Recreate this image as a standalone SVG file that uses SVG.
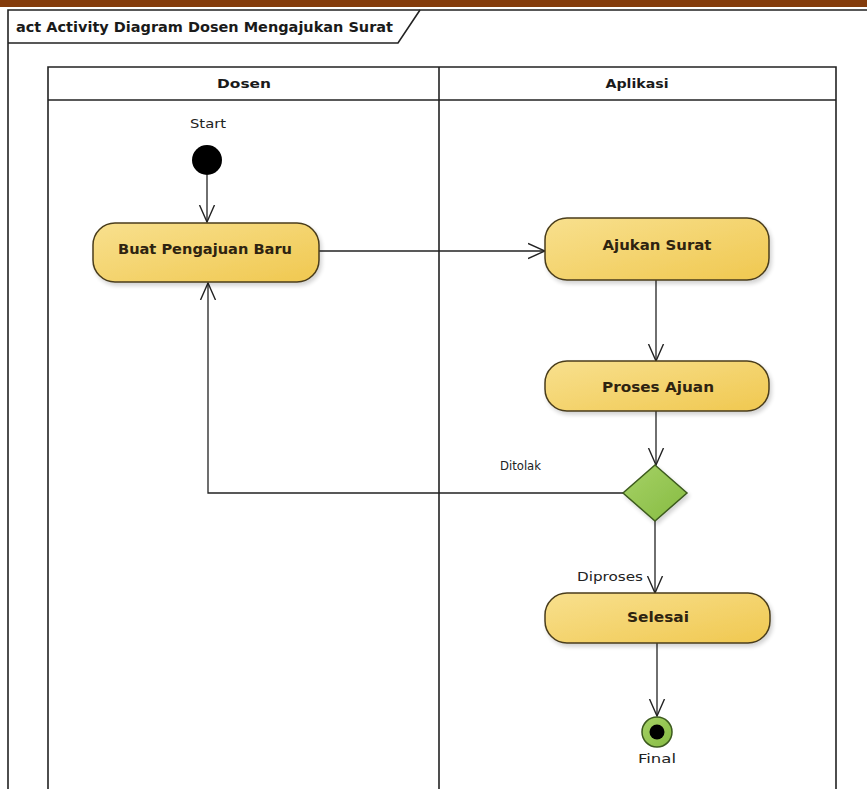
<svg xmlns="http://www.w3.org/2000/svg" width="867" height="789" viewBox="0 0 867 789">
  <defs>
    <linearGradient id="actFill" x1="0" y1="0" x2="1" y2="1">
      <stop offset="0" stop-color="#f8e08e"/>
      <stop offset="1" stop-color="#f0c850"/>
    </linearGradient>
    <linearGradient id="greenFill" x1="0" y1="0" x2="1" y2="1">
      <stop offset="0" stop-color="#a6d266"/>
      <stop offset="1" stop-color="#86bb42"/>
    </linearGradient>
    <filter id="shadow" x="-10%" y="-20%" width="130%" height="160%">
      <feGaussianBlur in="SourceAlpha" stdDeviation="2"/>
      <feOffset dx="2" dy="3" result="b"/>
      <feComponentTransfer><feFuncA type="linear" slope="0.18"/></feComponentTransfer>
      <feMerge><feMergeNode/><feMergeNode in="SourceGraphic"/></feMerge>
    </filter>
    <marker id="open" viewBox="0 0 18 18" refX="17" refY="9" markerWidth="18" markerHeight="18" markerUnits="userSpaceOnUse" orient="auto">
      <path d="M0,1.5 L17,9 L0,16.5" fill="none" stroke="#222" stroke-width="1.4"/>
    </marker>
  </defs>
  <style>
    .frame { fill: none; stroke: #222; stroke-width: 1.6; }
    .lane { fill: none; stroke: #222; stroke-width: 1.6; }
    .act { fill: url(#actFill); stroke: #4a3d1c; stroke-width: 1.5; filter: url(#shadow); }
    .dec { fill: url(#greenFill); stroke: #3c5a1e; stroke-width: 1.5; filter: url(#shadow); }
    .edge { fill: none; stroke: #222; stroke-width: 1.3; marker-end: url(#open); }
    .title { font-family: "DejaVu Sans", sans-serif; font-weight: bold; font-size: 14px; fill: #1a1a1a; }
    .head { font-family: "DejaVu Sans", sans-serif; font-weight: bold; font-size: 13px; fill: #1a1a1a; text-anchor: middle; }
    .lbl { font-family: "DejaVu Sans", sans-serif; font-weight: bold; font-size: 14px; fill: #2e2310; text-anchor: middle; }
    .note { font-family: "DejaVu Sans", sans-serif; font-size: 12.5px; fill: #222; }
  </style>

  <rect width="867" height="789" fill="#ffffff"/>
  <!-- page banner -->
  <rect x="0" y="0" width="867" height="7" fill="#843c0c"/>

  <!-- diagram frame and name tag -->
  <g id="frame">
    <path class="frame" d="M8,789 V10 H867"/>
    <path class="frame" d="M8,43 H398 L420,10"/>
    <text class="title" x="16" y="32" textLength="377" lengthAdjust="spacingAndGlyphs">act Activity Diagram Dosen Mengajukan Surat</text>
  </g>

  <!-- swimlanes -->
  <g id="lanes">
    <path class="lane" d="M48,789 V67 H836 V789"/>
    <line class="lane" x1="48" y1="100" x2="836" y2="100"/>
    <line class="lane" x1="439" y1="67" x2="439" y2="789"/>
    <text class="head" x="244" y="88" textLength="54" lengthAdjust="spacingAndGlyphs">Dosen</text>
    <text class="head" x="637" y="88" textLength="63" lengthAdjust="spacingAndGlyphs">Aplikasi</text>
  </g>

  <!-- connectors -->
  <g id="connectors">
    <line class="edge" x1="207" y1="175" x2="207" y2="222"/>
    <line class="edge" x1="319" y1="251" x2="545" y2="251"/>
    <line class="edge" x1="656" y1="280" x2="656" y2="361"/>
    <line class="edge" x1="656" y1="411" x2="656" y2="465"/>
    <polyline class="edge" points="624,493 208,493 208,283"/>
    <line class="edge" x1="655" y1="521" x2="655" y2="593"/>
    <line class="edge" x1="657" y1="643" x2="657" y2="716"/>
    <text class="note" x="500" y="470" textLength="41" lengthAdjust="spacingAndGlyphs">Ditolak</text>
    <text class="note" x="577" y="581" textLength="66" lengthAdjust="spacingAndGlyphs">Diproses</text>
  </g>

  <g id="start">
    <circle cx="207" cy="160" r="15" fill="#000"/>
    <text class="note" x="208" y="128" text-anchor="middle" textLength="36" lengthAdjust="spacingAndGlyphs">Start</text>
  </g>

  <g id="buat-pengajuan-baru">
    <rect class="act" x="93" y="223" width="226" height="59" rx="22"/>
    <text class="lbl" x="205" y="254" textLength="174" lengthAdjust="spacingAndGlyphs">Buat Pengajuan Baru</text>
  </g>

  <g id="ajukan-surat">
    <rect class="act" x="545" y="218" width="224" height="62" rx="22"/>
    <text class="lbl" x="657" y="250" textLength="109" lengthAdjust="spacingAndGlyphs">Ajukan Surat</text>
  </g>

  <g id="proses-ajuan">
    <rect class="act" x="545" y="361" width="224" height="50" rx="22"/>
    <text class="lbl" x="658" y="392" textLength="112" lengthAdjust="spacingAndGlyphs">Proses Ajuan</text>
  </g>

  <g id="keputusan">
    <polygon class="dec" points="655,465 687,493 655,521 623,493"/>
  </g>

  <g id="selesai">
    <rect class="act" x="545" y="593" width="225" height="50" rx="22"/>
    <text class="lbl" x="658" y="622" textLength="62" lengthAdjust="spacingAndGlyphs">Selesai</text>
  </g>

  <g id="final">
    <circle cx="657" cy="732" r="15" fill="url(#greenFill)" stroke="#3c5a1e" stroke-width="1.5"/>
    <circle cx="657" cy="732" r="7.5" fill="#000"/>
    <text class="note" x="657" y="763" text-anchor="middle" textLength="38" lengthAdjust="spacingAndGlyphs">Final</text>
  </g>
</svg>
